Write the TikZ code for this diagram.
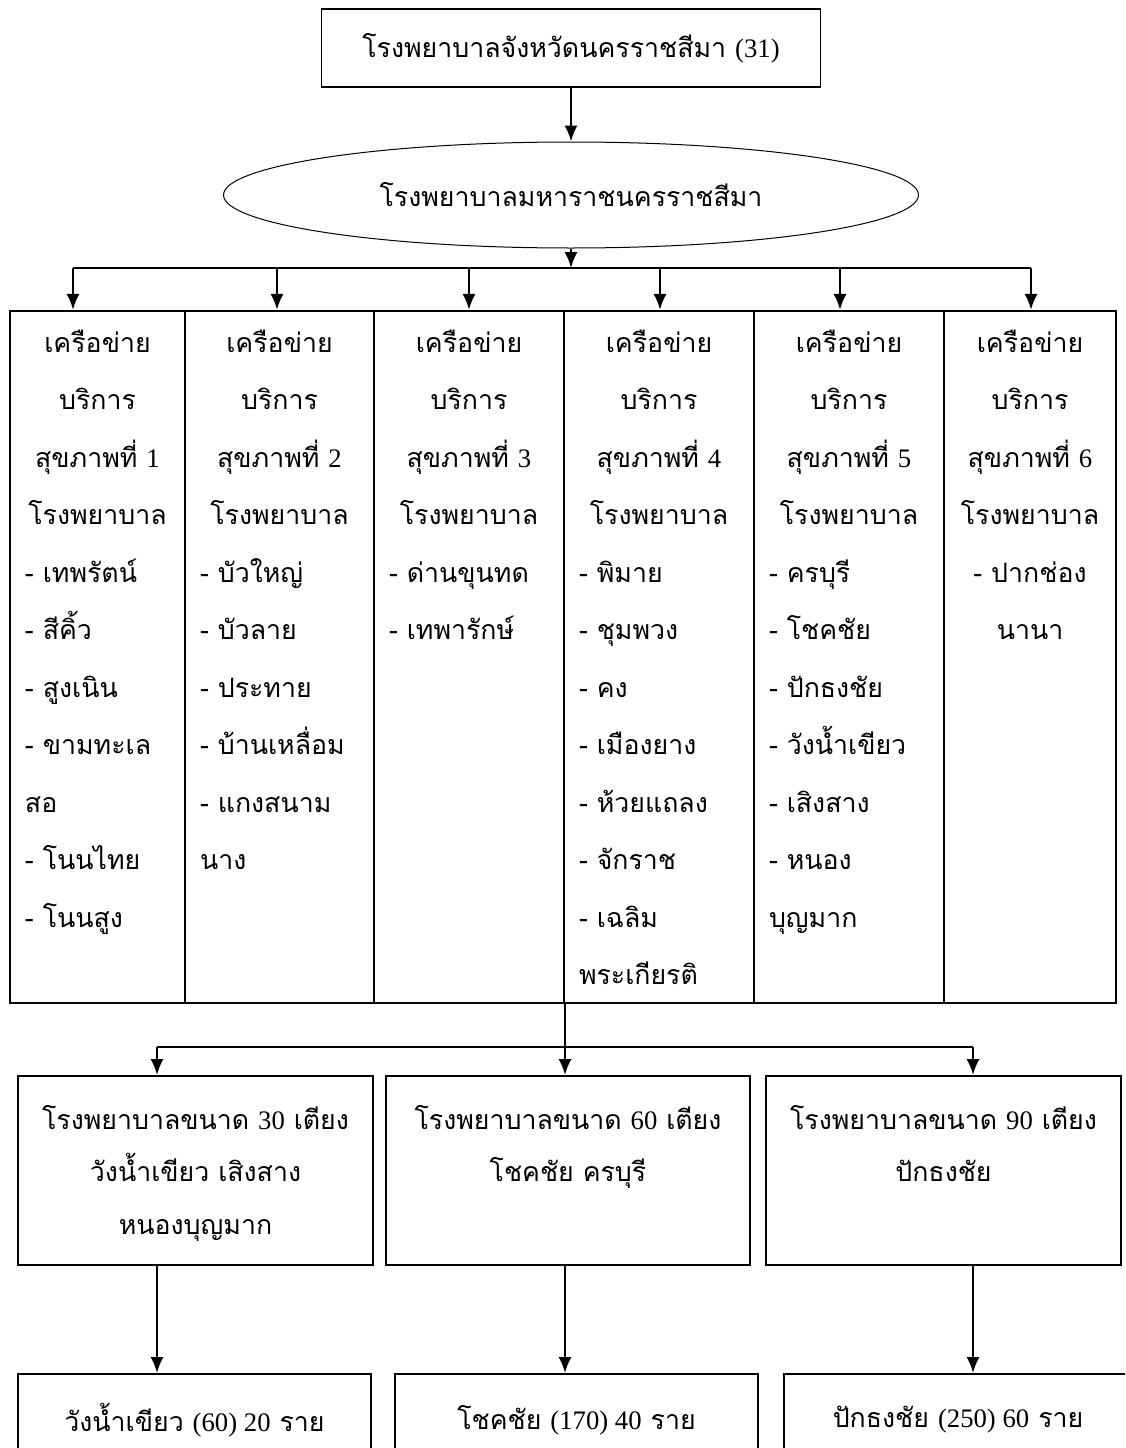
\documentclass[tikz,border=0pt]{standalone}
\usepackage{fontspec}
\setmainfont[Script=Thai]{Loma}
\newfontfamily\numfont{Liberation Serif}
\usetikzlibrary{arrows.meta,shapes.geometric}
\tikzset{>={Latex[length=4mm,width=3.3mm]}}
\newcommand{\nb}[1]{{\numfont #1}}
\newcommand{\nethead}[1]{{\centering เครือข่าย\par บริการ\par สุขภาพที่ \nb{#1}\par โรงพยาบาล\par}}
\tikzstyle{provbox}=[rectangle,draw,line width=0.3mm,inner sep=0pt]
\tikzstyle{hub}=[ellipse,draw,line width=0.25mm,inner sep=0pt]
\tikzstyle{cell}=[rectangle,draw,line width=0.55mm,inner sep=0pt]
\tikzstyle{bedbox}=[rectangle,draw,line width=0.5mm,inner sep=0pt]
\tikzstyle{link}=[->,line width=0.6mm]
\tikzstyle{bus}=[line width=0.3mm]
\tikzstyle{thai}=[inner sep=0pt,font=\fontsize{19}{40.9}\selectfont]
\tikzstyle{coltext}=[thai,anchor=base]
\tikzstyle{boxtext}=[inner sep=0pt,font=\fontsize{19}{37.6}\selectfont,anchor=base]

\begin{document}
\begin{tikzpicture}[x=0.25mm,y=-0.25mm]
\def \px {0.25mm};
\def \tabtop {311};
\def \tabbot {1003};
\def \busy {268};
\def \lowbus {1047};

\useasboundingbox (0,0) rectangle (1125,1448);
\clip (0,0) rectangle (1125,1448);

% province and regional hospital
\node[provbox,thai,minimum width=499*\px,minimum height=78*\px] (prov) at (571,48)
	{โรงพยาบาลจังหวัดนครราชสีมา \nb{(31)}};
\node[hub,thai,minimum width=695*\px,minimum height=106*\px] (mhr) at (571,195)
	{โรงพยาบาลมหาราชนครราชสีมา};
\draw[link] (prov) -- (mhr);
\coordinate (bc) at (571,\busy);
\draw[link] (mhr) -- (bc);

% the six networks
\foreach \i/\l/\r/\ax in {1/10/185/73, 2/185/374/277, 3/374/564/469, 4/564/754/660, 5/754/944/840, 6/944/1116/1031} {
	\node[cell,minimum width={(\r-\l)*\px},minimum height={(\tabbot-\tabtop)*\px}] (cell\i)
	at ({(\l+\r)/2},{(\tabtop+\tabbot)/2}) {};
	\coordinate (b\i) at (\ax,\busy);
	\draw[link] (b\i) -- (b\i |- cell\i.north);
};
\draw[bus] (b1) -- (b6);

\node[coltext,text width=36.25mm] (net1) at (97.5,352)
	{\nethead{1}\raggedright -~เทพรัตน์\par -~สีคิ้ว\par -~สูงเนิน\par -~ขามทะเล\par สอ\par -~โนนไทย\par -~โนนสูง\par};
\node[coltext,text width=39.75mm] (net2) at (279.5,352)
	{\nethead{2}\raggedright -~บัวใหญ่\par -~บัวลาย\par -~ประทาย\par -~บ้านเหลื่อม\par -~แกงสนาม\par นาง\par};
\node[coltext,text width=40mm] (net3) at (469,352)
	{\nethead{3}\raggedright -~ด่านขุนทด\par -~เทพารักษ์\par};
\node[coltext,text width=40mm] (net4) at (659,352)
	{\nethead{4}\raggedright -~พิมาย\par -~ชุมพวง\par -~คง\par -~เมืองยาง\par -~ห้วยแถลง\par -~จักราช\par -~เฉลิม\par พระเกียรติ\par};
\node[coltext,text width=40mm] (net5) at (849,352)
	{\nethead{5}\raggedright -~ครบุรี\par -~โชคชัย\par -~ปักธงชัย\par -~วังน้ำเขียว\par -~เสิงสาง\par -~หนอง\par บุญมาก\par};
\node[coltext,text width=35.5mm] (net6) at (1030,352)
	{\nethead{6}\centering -~ปากช่อง\par นานา\par};

% hospitals by bed size
\foreach \i/\l/\r/\ax in {1/18/373/157, 2/386/750/565, 3/766/1121/973} {
	\node[bedbox,minimum width={(\r-\l)*\px},minimum height=189*\px] (mid\i)
	at ({(\l+\r)/2},1170.5) {};
	\coordinate (m\i) at (\ax,\lowbus);
};
\draw[bus] (m1) -- (m3);
\draw[link] (cell4.south -| m2) -- (m2 |- mid2.north);
\draw[link] (m1) -- (m1 |- mid1.north);
\draw[link] (m3) -- (m3 |- mid3.north);

\node[boxtext,text width=88.75mm] (bed1) at (195.5,1129)
	{\centering โรงพยาบาลขนาด \nb{30} เตียง\par วังน้ำเขียว เสิงสาง\par หนองบุญมาก\par};
\node[boxtext,text width=91mm] (bed2) at (568,1129)
	{\centering โรงพยาบาลขนาด \nb{60} เตียง\par โชคชัย ครบุรี\par};
\node[boxtext,text width=88.75mm] (bed3) at (943.5,1129)
	{\centering โรงพยาบาลขนาด \nb{90} เตียง\par ปักธงชัย\par};

% cases
\foreach \i/\l/\r/\body in {1/18/371/{วังน้ำเขียว \nb{(60) 20} ราย}, 2/395/758/{โชคชัย \nb{(170) 40} ราย}, 3/784/1132/{ปักธงชัย \nb{(250) 60} ราย}} {
	\node[bedbox,thai,minimum width={(\r-\l)*\px},minimum height=92*\px] (case\i)
	at ({(\l+\r)/2},1420) {\body};
	\draw[link] (m\i |- mid\i.south) -- (m\i |- case\i.north);
};

\end{tikzpicture}
\end{document}
